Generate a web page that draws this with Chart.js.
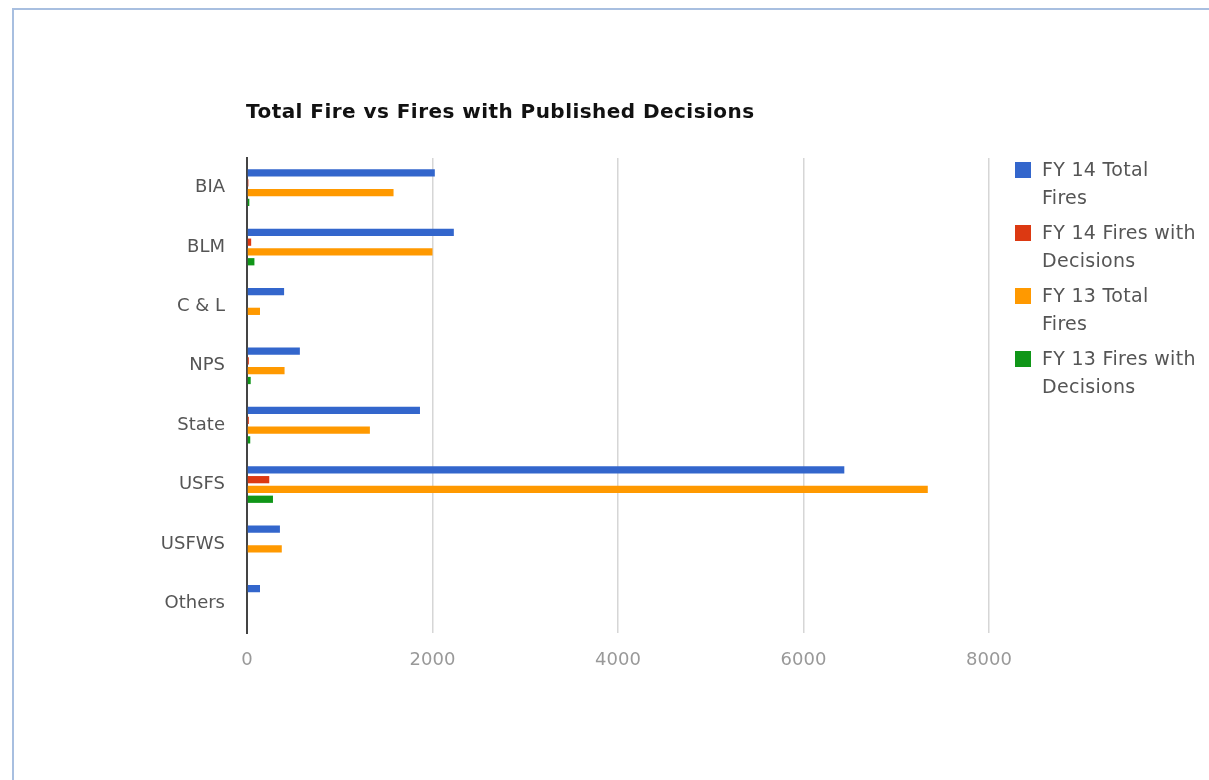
<!DOCTYPE html>
<html>
<head>
<meta charset="utf-8">
<script src="https://cdn.jsdelivr.net/npm/chart.js@4"></script>
<style>
  body { margin: 0; background: #fff; font-family: "DejaVu Sans", sans-serif; }
  #wrap { position: relative; width: 1209px; height: 780px; overflow: hidden; }
  #frame { position: absolute; left: 12px; top: 8px; right: 0; bottom: 0;
           border-top: 2px solid #a8bfe0; border-left: 2px solid #a8bfe0; }
  canvas { position: absolute; left: 0; top: 0; }
  #title { position: absolute; left: 246px; top: 99px; font-size: 20px; letter-spacing: 0.45px; font-weight: bold; color: #111; white-space: nowrap; }
  #legend { position: absolute; left: 1015px; top: 156px; }
  .item { position: relative; height: 63px; }
  .sw { position: absolute; left: 0; top: 6px; width: 16px; height: 16px; }
  .txt { position: absolute; left: 27px; top: -1px; font-size: 19px; letter-spacing: 0.3px; line-height: 28px; color: #555; white-space: nowrap; }
</style>
</head>
<body>
<div id="wrap">
  <div id="frame"></div>
  <canvas id="chart" width="1209" height="780"></canvas>
  <div id="title">Total Fire vs Fires with Published Decisions</div>
  <div id="legend"></div>
</div>
<script>
// categorias e valores
const categories = ["BIA", "BLM", "C & L", "NPS", "State", "USFS", "USFWS", "Others"];
const fy14Total = [2025, 2230, 400, 570, 1865, 6440, 355, 140];
const fy14Decisions = [15, 45, 0, 20, 20, 240, 0, 0];
const fy13Total = [1580, 2000, 140, 405, 1325, 7340, 375, 0];
const fy13Decisions = [25, 80, 0, 40, 35, 280, 0, 0];
const seriesNames = [["FY 14 Total", "Fires"], ["FY 14 Fires with", "Decisions"], ["FY 13 Total", "Fires"], ["FY 13 Fires with", "Decisions"]];
const colors = ["#3366cc", "#dc3912", "#ff9900", "#109618"];
const xTicks = [0, 2000, 4000, 6000, 8000];

const seriesData = [fy14Total, fy14Decisions, fy13Total, fy13Decisions];

// legenda em HTML (texto quebrado em duas linhas como no original)
const legendEl = document.getElementById("legend");
seriesNames.forEach((name, i) => {
  const item = document.createElement("div");
  item.className = "item";
  item.innerHTML = `<div class="sw" style="background:${colors[i]}"></div><div class="txt">${name[0]}<br>${name[1]}</div>`;
  legendEl.appendChild(item);
});

const ctx = document.getElementById("chart").getContext("2d");
new Chart(ctx, {
  type: "bar",
  data: {
    labels: categories,
    datasets: seriesData.map((d, i) => ({
      label: seriesNames[i].join(" "),
      data: d,
      backgroundColor: colors[i],
      categoryPercentage: 0.66,
      barPercentage: 0.74
    }))
  },
  options: {
    indexAxis: "y",
    responsive: false,
    animation: false,
    layout: { padding: { left: 0, right: 220, top: 158, bottom: 97 } },
    plugins: { legend: { display: false }, title: { display: false }, tooltip: { enabled: false } },
    scales: {
      x: {
        min: 0,
        max: 8000,
        afterBuildTicks: (scale) => { scale.ticks = xTicks.map(v => ({ value: v })); },
        afterFit: (scale) => { scale.height = 50; },
        grid: {
          color: (c) => c.tick && c.tick.value === 0 ? "rgba(0,0,0,0)" : "#d6d6d6",
          lineWidth: 1.5,
          drawTicks: false
        },
        border: { display: false },
        ticks: {
          color: "#999",
          padding: 17,
          font: { family: "DejaVu Sans", size: 18 },
          callback: (v) => String(v)
        }
      },
      y: {
        afterFit: (scale) => { scale.width = 247; },
        grid: { display: false, drawTicks: false },
        border: { display: true, color: "#444", width: 2 },
        ticks: { color: "#555", padding: 22, font: { family: "DejaVu Sans", size: 18 } }
      }
    }
  }
});
</script>
</body>
</html>
